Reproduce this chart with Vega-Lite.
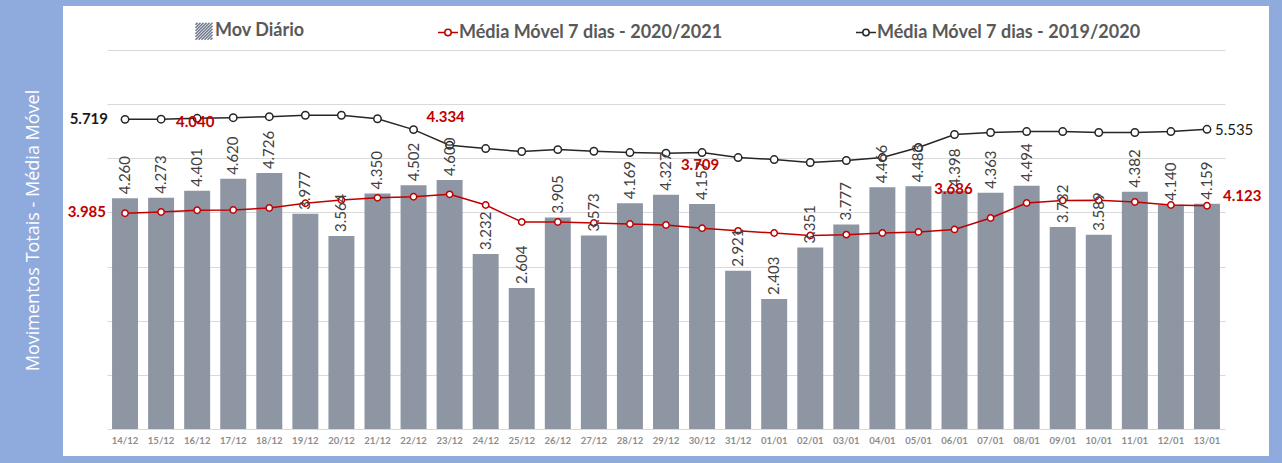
{
  "$schema": "https://vega.github.io/schema/vega-lite/v6.json",
  "width": 1118,
  "height": 362,
  "autosize": {"type": "none"},
  "padding": {"left": 107, "top": 50, "right": 57, "bottom": 51},
  "background": "#8faadc",
  "config": {
    "view": {"fill": "white", "stroke": "white", "strokeWidth": 88},
    "locale": {"number": {"decimal": ",", "thousands": ".", "grouping": [3], "currency": ["R$", ""]}},
    "font": "Lato"
  },
  "data": {
    "values": [
      {"d": "14/12", "mov": 4260, "mm20": 3985, "mm19": 5719},
      {"d": "15/12", "mov": 4273, "mm20": 4008, "mm19": 5722},
      {"d": "16/12", "mov": 4401, "mm20": 4040, "mm19": 5738},
      {"d": "17/12", "mov": 4620, "mm20": 4045, "mm19": 5750},
      {"d": "18/12", "mov": 4726, "mm20": 4082, "mm19": 5768},
      {"d": "19/12", "mov": 3977, "mm20": 4170, "mm19": 5795},
      {"d": "20/12", "mov": 3564, "mm20": 4230, "mm19": 5795},
      {"d": "21/12", "mov": 4350, "mm20": 4270, "mm19": 5730},
      {"d": "22/12", "mov": 4502, "mm20": 4290, "mm19": 5530},
      {"d": "23/12", "mov": 4600, "mm20": 4334, "mm19": 5240},
      {"d": "24/12", "mov": 3232, "mm20": 4137, "mm19": 5180},
      {"d": "25/12", "mov": 2604, "mm20": 3823, "mm19": 5125},
      {"d": "26/12", "mov": 3905, "mm20": 3823, "mm19": 5160},
      {"d": "27/12", "mov": 3573, "mm20": 3805, "mm19": 5130},
      {"d": "28/12", "mov": 4169, "mm20": 3786, "mm19": 5106},
      {"d": "29/12", "mov": 4327, "mm20": 3768, "mm19": 5095},
      {"d": "30/12", "mov": 4157, "mm20": 3709, "mm19": 5106},
      {"d": "31/12", "mov": 2921, "mm20": 3660, "mm19": 5014},
      {"d": "01/01", "mov": 2403, "mm20": 3620, "mm19": 4977},
      {"d": "02/01", "mov": 3351, "mm20": 3575, "mm19": 4922},
      {"d": "03/01", "mov": 3777, "mm20": 3590, "mm19": 4959},
      {"d": "04/01", "mov": 4466, "mm20": 3620, "mm19": 5014},
      {"d": "05/01", "mov": 4483, "mm20": 3640, "mm19": 5199},
      {"d": "06/01", "mov": 4398, "mm20": 3686, "mm19": 5439},
      {"d": "07/01", "mov": 4363, "mm20": 3897, "mm19": 5476},
      {"d": "08/01", "mov": 4494, "mm20": 4174, "mm19": 5494},
      {"d": "09/01", "mov": 3732, "mm20": 4220, "mm19": 5494},
      {"d": "10/01", "mov": 3589, "mm20": 4225, "mm19": 5476},
      {"d": "11/01", "mov": 4382, "mm20": 4193, "mm19": 5476},
      {"d": "12/01", "mov": 4140, "mm20": 4137, "mm19": 5494},
      {"d": "13/01", "mov": 4159, "mm20": 4123, "mm19": 5535}
    ]
  },
  "encoding": {
    "x": {
      "field": "d", "type": "nominal", "sort": null,
      "scale": {"paddingInner": 0.28, "paddingOuter": 0.14},
      "axis": {
        "title": null, "labelAngle": 0, "ticks": false, "offset": 17,
        "domainColor": "#d9d9d9", "domainWidth": 1,
        "labelFont": "Lato", "labelFontSize": 9.5, "labelFontWeight": "bold",
        "labelColor": "#8c8c8c", "labelPadding": 6
      }
    }
  },
  "layer": [
    {
      "mark": {"type": "bar", "fill": "#8e95a3"},
      "encoding": {
        "y": {
          "field": "mov", "type": "quantitative",
          "scale": {"domain": [314, 7000], "nice": false, "zero": false},
          "axis": {
            "values": [1000, 2000, 3000, 4000, 5000, 6000, 7000],
            "labels": false, "ticks": false, "domain": false,
            "grid": true, "gridColor": "#d9d9d9", "gridWidth": 1,
            "title": "Movimentos Totais - Média Móvel",
            "titleColor": "white", "titleFont": "Open Sans", "titleFontSize": 18,
            "titleFontWeight": "normal", "titleX": -74, "titleY": 180,
            "titleAngle": -90, "titleAlign": "center", "titleBaseline": "middle"
          }
        },
        "y2": {"datum": 0},
        "color": {
          "datum": "Mov Diário",
          "scale": {
            "domain": ["Mov Diário", "Média Móvel 7 dias - 2020/2021", "Média Móvel 7 dias - 2019/2020"],
            "range": ["#6f788b", "#c00000", "#262626"]
          },
          "legend": {
            "orient": "none", "legendX": 86, "legendY": -30,
            "direction": "horizontal", "title": null,
            "labelFont": "Lato", "labelFontSize": 18, "labelFontWeight": "bold",
            "labelColor": "#595959", "labelOffset": 0, "columnPadding": 130,
            "labelLimit": 500,
            "symbolSize": 400, "symbolStrokeWidth": 1.5,
            "encode": {
              "symbols": {
                "update": {
                  "shape": {"signal": "datum.value === 'Mov Diário' ? 'M-0.85,-0.65L-0.65,-0.85M-0.85,-0.35L-0.35,-0.85M-0.85,-0.05L-0.05,-0.85M-0.85,0.25L0.25,-0.85M-0.85,0.55L0.55,-0.85M-0.85,0.85L0.85,-0.85M-0.55,0.85L0.85,-0.55M-0.25,0.85L0.85,-0.25M0.05,0.85L0.85,0.05M0.35,0.85L0.85,0.35M0.65,0.85L0.85,0.65' : 'M-1,0H-0.32M0.32,0H1M0.32,0A0.32,0.32,0,1,1,-0.32,0A0.32,0.32,0,1,1,0.32,0M0.32,0A0.32,0.32,0,1,0,-0.32,0A0.32,0.32,0,1,0,0.32,0'"},
                  "strokeWidth": {"value": 1.5},
                  "opacity": {"value": 1}
                }
              }
            }
          }
        }
      }
    },
    {
      "mark": {"type": "line", "strokeWidth": 1.5},
      "encoding": {
        "y": {"field": "mm20", "type": "quantitative"},
        "color": {"datum": "Média Móvel 7 dias - 2020/2021"}
      }
    },
    {
      "mark": {"type": "line", "strokeWidth": 1.5},
      "encoding": {
        "y": {"field": "mm19", "type": "quantitative"},
        "color": {"datum": "Média Móvel 7 dias - 2019/2020"}
      }
    },
    {
      "mark": {"type": "point", "filled": false, "fill": "white", "fillOpacity": 1, "opacity": 1, "size": 40, "strokeWidth": 1.5},
      "encoding": {
        "y": {"field": "mm20", "type": "quantitative"},
        "color": {"datum": "Média Móvel 7 dias - 2020/2021"}
      }
    },
    {
      "mark": {"type": "point", "filled": false, "fill": "white", "fillOpacity": 1, "opacity": 1, "size": 55, "strokeWidth": 1.5},
      "encoding": {
        "y": {"field": "mm19", "type": "quantitative"},
        "color": {"datum": "Média Móvel 7 dias - 2019/2020"}
      }
    },
    {
      "mark": {"type": "text", "angle": -90, "align": "left", "baseline": "middle", "dx": 4, "font": "Lato", "fontSize": 15, "color": "#404040"},
      "encoding": {
        "y": {"field": "mov", "type": "quantitative"},
        "text": {"field": "mov", "type": "quantitative", "format": ",d"}
      }
    },
    {
      "transform": [{"filter": "datum.d === '14/12'"}],
      "mark": {"type": "text", "align": "right", "baseline": "middle", "dx": -19, "dy": -1, "font": "Lato", "fontSize": 15, "fontWeight": "bold", "color": "#c00000"},
      "encoding": {
        "y": {"field": "mm20", "type": "quantitative"},
        "text": {"field": "mm20", "type": "quantitative", "format": ",d"}
      }
    },
    {
      "transform": [{"filter": "datum.d === '16/12'"}],
      "mark": {"type": "text", "align": "center", "baseline": "middle", "dx": -2, "dy": -88, "font": "Lato", "fontSize": 15, "fontWeight": "bold", "color": "#c00000"},
      "encoding": {
        "y": {"field": "mm20", "type": "quantitative"},
        "text": {"field": "mm20", "type": "quantitative", "format": ",d"}
      }
    },
    {
      "transform": [{"filter": "datum.d === '23/12'"}],
      "mark": {"type": "text", "align": "center", "baseline": "middle", "dx": -4, "dy": -77, "font": "Lato", "fontSize": 15, "fontWeight": "bold", "color": "#c00000"},
      "encoding": {
        "y": {"field": "mm20", "type": "quantitative"},
        "text": {"field": "mm20", "type": "quantitative", "format": ",d"}
      }
    },
    {
      "transform": [{"filter": "datum.d === '30/12'"}],
      "mark": {"type": "text", "align": "center", "baseline": "middle", "dx": -2, "dy": -63, "font": "Lato", "fontSize": 15, "fontWeight": "bold", "color": "#c00000"},
      "encoding": {
        "y": {"field": "mm20", "type": "quantitative"},
        "text": {"field": "mm20", "type": "quantitative", "format": ",d"}
      }
    },
    {
      "transform": [{"filter": "datum.d === '06/01'"}],
      "mark": {"type": "text", "align": "center", "baseline": "middle", "dx": -1, "dy": -40, "font": "Lato", "fontSize": 15, "fontWeight": "bold", "color": "#c00000"},
      "encoding": {
        "y": {"field": "mm20", "type": "quantitative"},
        "text": {"field": "mm20", "type": "quantitative", "format": ",d"}
      }
    },
    {
      "transform": [{"filter": "datum.d === '13/01'"}],
      "mark": {"type": "text", "align": "left", "baseline": "middle", "dx": 16, "dy": -10, "font": "Lato", "fontSize": 15, "fontWeight": "bold", "color": "#c00000"},
      "encoding": {
        "y": {"field": "mm20", "type": "quantitative"},
        "text": {"field": "mm20", "type": "quantitative", "format": ",d"}
      }
    },
    {
      "transform": [{"filter": "datum.d === '14/12'"}],
      "mark": {"type": "text", "align": "right", "baseline": "middle", "dx": -17, "dy": 0, "font": "Lato", "fontSize": 15, "fontWeight": "bold", "color": "#1a1a1a"},
      "encoding": {
        "y": {"field": "mm19", "type": "quantitative"},
        "text": {"field": "mm19", "type": "quantitative", "format": ",d"}
      }
    },
    {
      "transform": [{"filter": "datum.d === '13/01'"}],
      "mark": {"type": "text", "align": "left", "baseline": "middle", "dx": 8, "dy": 1, "font": "Lato", "fontSize": 15, "color": "#1a1a1a"},
      "encoding": {
        "y": {"field": "mm19", "type": "quantitative"},
        "text": {"field": "mm19", "type": "quantitative", "format": ",d"}
      }
    }
  ]
}
